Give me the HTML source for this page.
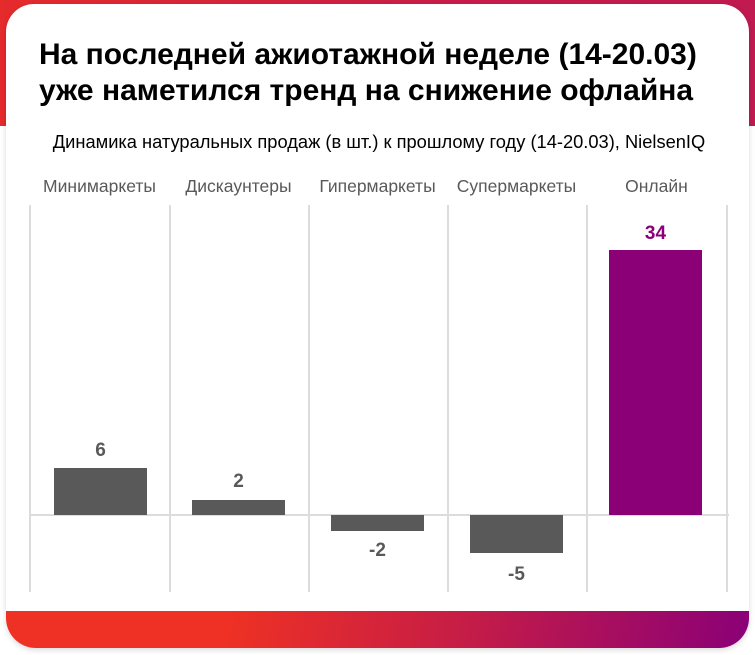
<!DOCTYPE html>
<html><head><meta charset="utf-8"><style>
html,body{margin:0;padding:0;}
body{width:755px;height:655px;position:relative;background:#fff;overflow:hidden;font-family:"Liberation Sans",sans-serif;}
.hdr{position:absolute;left:0;top:0;width:755px;height:126px;background:linear-gradient(90deg,#e52b2b,#c81d4a 60%,#c01a50);}
.card{position:absolute;left:6px;top:4px;width:743px;height:644px;background:#fff;border-radius:28px 28px 30px 30px;box-shadow:0 2px 6px rgba(0,0,0,0.15);overflow:hidden;}
.band{position:absolute;left:0;bottom:0;width:100%;height:37px;background:linear-gradient(100deg,#ee3124 0%,#ee3124 30%,#c81e45 60%,#8a0077 100%);}
.t{position:absolute;left:39px;top:37px;font-size:30px;font-weight:bold;line-height:36px;color:#000;white-space:nowrap;}
.s{position:absolute;left:0;width:758px;top:131px;text-align:center;font-size:18.3px;color:#000;white-space:nowrap;}
.g{position:absolute;top:205px;height:387px;width:2px;background:#dcdcdc;}
.z{position:absolute;left:30px;width:699px;top:514px;height:2px;background:#dcdcdc;}
.c{position:absolute;top:176px;width:139px;text-align:center;font-size:17.5px;color:#595959;white-space:nowrap;}
.b{position:absolute;width:93px;background:#595959;}
.v{position:absolute;width:93px;text-align:center;font-size:19px;font-weight:bold;color:#595959;}
</style></head><body>
<div class="hdr"></div>
<div class="card"><div class="band"></div></div>
<div class="t">На последней ажиотажной неделе (14-20.03)<br>уже наметился тренд на снижение офлайна</div>
<div class="s">Динамика натуральных продаж (в шт.) к прошлому году (14-20.03), NielsenIQ</div>
<div class="g" style="left:29px"></div><div class="g" style="left:169px"></div><div class="g" style="left:308px"></div><div class="g" style="left:447px"></div><div class="g" style="left:586px"></div><div class="g" style="left:726px"></div>
<div class="z"></div>
<div class="c" style="left:30px">Минимаркеты</div>
<div class="c" style="left:169px">Дискаунтеры</div>
<div class="c" style="left:308px">Гипермаркеты</div>
<div class="c" style="left:447px">Супермаркеты</div>
<div class="c" style="left:587px">Онлайн</div>
<div class="b" style="left:54px;top:468px;height:47px"></div>
<div class="b" style="left:192px;top:500px;height:15px"></div>
<div class="b" style="left:331px;top:515px;height:16px"></div>
<div class="b" style="left:470px;top:515px;height:38px"></div>
<div class="b" style="left:609px;top:250px;height:265px;background:#8b0077"></div>
<div class="v" style="left:54px;top:440px">6</div>
<div class="v" style="left:192px;top:471px">2</div>
<div class="v" style="left:331px;top:540px">-2</div>
<div class="v" style="left:470px;top:564px">-5</div>
<div class="v" style="left:609px;top:223px;color:#8b0077">34</div>
</body></html>
